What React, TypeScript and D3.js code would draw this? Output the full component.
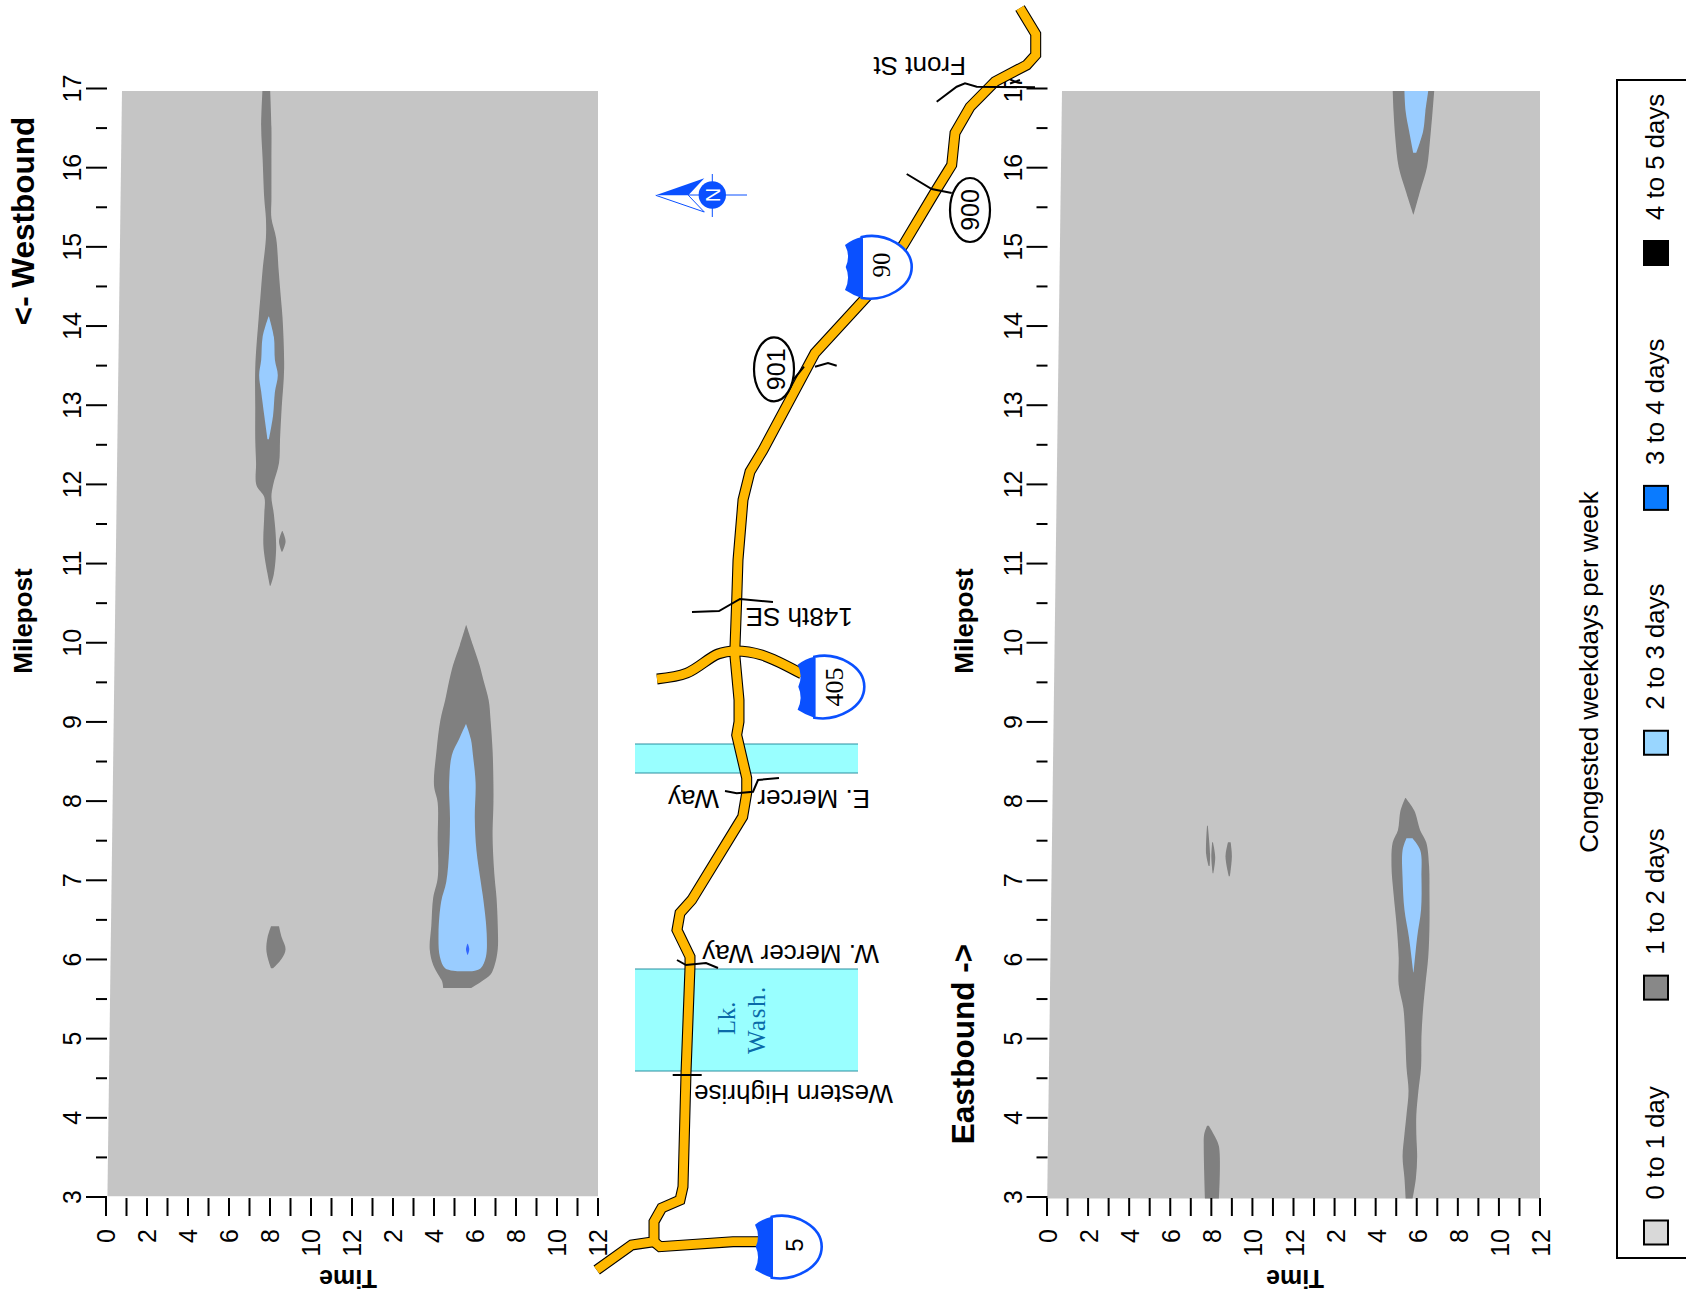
import React from "react";
import * as d3 from "d3";

const WIDTH = 1686;
const HEIGHT = 1299;
const SANS = "'Liberation Sans', Arial, sans-serif";
const SERIF = "'Liberation Serif', 'Times New Roman', serif";

// ---- axis data
const hourTicks = d3.range(0, 25);
const hourLabels = ["0", "2", "4", "6", "8", "10", "12", "2", "4", "6", "8", "10", "12"];
const mileTicks = d3.range(3, 17.5, 0.5);

// ---- plot corners [milepost, hour left, hour right]
const fieldWest = [[16.97, 0.78, 24], [3.01, 0.07, 24]];
const fieldEast = [[16.97, 0.73, 24], [2.98, 0.01, 24]];

// ---- congestion regions, [milepost, from hour, to hour]
const westAmDark = [[16.97,7.63,8.01],[16.51,7.57,8.07],[16.11,7.64,8.07],[15.61,7.72,8.07],[15.36,7.8,8.07],[15.11,7.8,8.3],[14.71,7.64,8.42],[14.36,7.53,8.53],[14.11,7.45,8.61],[13.47,7.28,8.69],[12.97,7.28,8.57],[12.57,7.28,8.49],[12.27,7.32,8.44],[11.99,7.34,8.15],[11.84,7.72,8.07],[11.62,7.72,8.19],[11.22,7.68,8.3],[10.87,7.88,8.19],[10.72,7.99,8.03]];
const westAmLight = [[14.12,7.93,7.95],[13.86,7.64,8.19],[13.57,7.57,8.24],[13.38,7.47,8.38],[13.17,7.57,8.24],[12.87,7.72,8.15],[12.57,7.88,7.95]];
const westAmSpot = [[11.41,8.59,8.61],[11.28,8.44,8.76],[11.15,8.57,8.6]];
const westPmDark = [[10.22,17.56,17.58],[9.97,17.26,17.9],[9.72,16.93,18.22],[9.52,16.74,18.42],[9.27,16.54,18.67],[9.02,16.31,18.76],[8.63,16.12,18.86],[8.2,16.0,18.9],[7.98,16.18,18.9],[7.53,16.18,18.86],[7.03,16.18,18.96],[6.78,15.96,19.05],[6.43,15.87,19.11],[6.13,15.79,19.11],[5.93,15.96,18.96],[5.81,16.2,18.76],[5.72,16.4,18.3],[5.64,16.45,17.8]];
const westPmLight = [[8.97,17.55,17.57],[8.78,17.22,17.8],[8.58,16.87,17.9],[8.23,16.74,18.03],[7.78,16.78,17.99],[7.38,16.74,18.07],[6.98,16.6,18.28],[6.73,16.35,18.42],[6.33,16.22,18.57],[6.03,16.29,18.53],[5.89,16.54,18.28],[5.85,17.22,17.8]];
const westPmCore = [[6.2,17.63,17.65],[6.13,17.56,17.72],[6.06,17.63,17.65]];
const westAmLow = [[6.42,8.05,8.44],[6.28,7.88,8.57],[6.13,7.82,8.76],[6.01,7.9,8.57],[5.89,8.05,8.15]];

const eastPmTopDark = [[16.97,16.83,18.85],[16.71,16.87,18.77],[16.36,16.96,18.65],[16.01,17.12,18.5],[15.71,17.46,18.17],[15.41,17.83,17.85]];
const eastPmTopLight = [[16.97,17.4,18.56],[16.71,17.46,18.42],[16.46,17.63,18.31],[16.19,17.83,17.98]];
const eastPmDark = [[8.04,17.44,17.46],[7.88,17.21,17.88],[7.63,17.08,18.17],[7.48,16.83,18.46],[7.18,16.77,18.6],[6.83,16.87,18.62],[6.43,17.02,18.62],[6.03,17.12,18.56],[5.68,17.12,18.42],[5.38,17.35,18.31],[5.03,17.44,18.23],[4.64,17.5,18.21],[4.34,17.6,18.08],[4.04,17.5,17.98],[3.79,17.4,17.98],[3.51,17.31,18.02],[3.24,17.4,17.96],[2.98,17.46,17.8]];
const eastPmLight = [[7.53,17.5,17.79],[7.38,17.31,18.17],[7.03,17.31,18.23],[6.63,17.4,18.21],[6.28,17.62,18.02],[5.84,17.83,17.85]];
const eastAmLow = [[3.9,7.79,7.88],[3.79,7.65,8.12],[3.64,7.63,8.37],[2.98,7.69,8.37]];
const eastAmSpotA = [[7.48,8.81,8.94],[7.3,8.69,9.0],[7.05,8.85,8.9]];
const eastAmSpotB = [[7.69,7.79,7.83],[7.33,7.75,7.94],[7.18,7.87,7.92]];
const eastAmSpotC = [[7.48,8.04,8.08],[7.29,8.0,8.19],[7.09,8.06,8.1]];

const DARK = "#808080";
const LIGHT = "#99ccff";
const CORE = "#3366ff";
const westRegions = [
  { rows: westAmDark, fill: DARK }, { rows: westAmSpot, fill: DARK }, { rows: westAmLow, fill: DARK }, { rows: westPmDark, fill: DARK },
  { rows: westAmLight, fill: LIGHT }, { rows: westPmLight, fill: LIGHT }, { rows: westPmCore, fill: CORE },
];
const eastRegions = [
  { rows: eastPmTopDark, fill: DARK }, { rows: eastPmDark, fill: DARK }, { rows: eastAmLow, fill: DARK },
  { rows: eastAmSpotA, fill: DARK }, { rows: eastAmSpotB, fill: DARK }, { rows: eastAmSpotC, fill: DARK },
  { rows: eastPmTopLight, fill: LIGHT }, { rows: eastPmLight, fill: LIGHT },
];

// ---- legend
const legendLabels = ["0 to 1 day", "1 to 2 days", "2 to 3 days", "3 to 4 days", "4 to 5 days"];
const legendColors = ["#d9d9d9", "#888888", "#99d6ff", "#0a7bff", "#000000"];

// ---- road map (page points)
const roadMain = [[1020,8],[1035.7,34],[1035.7,55],[1026.7,65],[995,81.7],[970,107],[955,133],[951.7,165],[935,192],[903.3,245],[866.7,296.7],[815,353],[763,450],[750,471.7],[743,500],[738,560],[736.7,600],[735,646.7],[735,656.7],[739,700],[739,721.7],[736.7,735],[746.7,778],[746.7,793],[742.7,816.7],[691.7,900],[680,913],[677,930],[690,956.7],[690,966.7],[686,1073],[683,1186.7],[680,1200],[661.7,1208],[654,1221.7],[654,1241.7],[631.7,1245],[596.7,1270]];
const roadI5 = [[654,1241.7],[660,1246.7],[733,1241.7],[760,1241.7]];
const road405 = [[657,679],[687,673],[718,654],[735,651],[761.7,655],[802,674]];

const crossStreets = [
  [[672.7,1075],[701.7,1075]],
  [[677,960],[686,965],[706,963],[718,968]],
  [[725,791],[736.7,793.3],[753,791.7],[758,780],[779,778]],
  [[692,612],[719,611],[740,599],[773,602]],
  [[936.7,101.7],[956.7,86.7],[965,83.3],[976.7,86.7],[1035,87.3]],
  [[1010,83.5],[1020,80]],
  [[906.7,174],[931.7,189],[951.7,193]],
  [[815,366.7],[828,363],[836.7,365.7]],
  [[786.7,393],[793,380],[804,366.7]],
];

const lakes = [[969, 1071], [744, 773]];
const lakeX = [635, 858];

const streetLabels = [
  { text: "Western Highrise", x: 893, y: 1085 },
  { text: "W. Mercer Way", x: 879, y: 945 },
  { text: "148th SE", x: 852.7, y: 608 },
  { text: "Front St", x: 966, y: 57 },
];

const ovals = [
  { text: "900", cx: 970, cy: 210, base: 979 },
  { text: "901", cx: 774, cy: 369.3, base: 785 },
];
const shields = [
  { text: "90", x: 861.7, y: 267, base: 890, textY: 265, font: SERIF, size: 25 },
  { text: "405", x: 814.3, y: 686.7, base: 843, textY: 687, font: SERIF, size: 26 },
  { text: "5", x: 771.7, y: 1246.7, base: 802.7, textY: 1245, font: SANS, size: 24 },
];

const rowsArea = (x: any, y: any, curve: any) =>
  d3.area<number[]>().y((d) => y(d[0])).x0((d) => x(d[1])).x1((d) => x(d[2])).curve(curve);

function rot(x: number, y: number, a: number) {
  return `translate(${x},${y}) rotate(${a})`;
}

function Panel({ x0, x1, axisX, field, regions, labelDx, timeX, mileX, dirLabel, dirY, dirX }: any) {
  const x = d3.scaleLinear().domain([0, 24]).range([x0, x1]);
  const y = d3.scaleLinear().domain([3, 17]).range([1197, 88.5]);
  const area = rowsArea(x, y, d3.curveLinear);
  const blob = rowsArea(x, y, d3.curveCatmullRom.alpha(0.5));
  const labelFont = { fontFamily: SANS, fontSize: 25, fill: "#000" };
  return (
    <g>
      <path d={area(field) ?? ""} fill="#c5c5c5" />
      <g filter="url(#soft)">
        {regions.map((r: any, i: number) => (
          <path key={i} d={blob(r.rows) ?? ""} fill={r.fill} />
        ))}
      </g>
      {hourTicks.map((t) => (
        <line key={t} x1={x(t)} x2={x(t)} y1={1198} y2={1216} stroke="#000" strokeWidth={2} />
      ))}
      {hourLabels.map((l, i) => (
        <text key={i} transform={rot(x(i * 2) + labelDx, 1229, -90)} textAnchor="end" {...labelFont}>{l}</text>
      ))}
      {mileTicks.map((m) => {
        const major = Number.isInteger(m);
        return (
          <line key={m} x1={axisX - (major ? 21 : 11)} x2={axisX} y1={y(m)} y2={y(m)} stroke="#000" strokeWidth={2} />
        );
      })}
      {mileTicks.filter((m) => Number.isInteger(m)).map((m) => (
        <text key={m} transform={rot(axisX - 26, y(m), -90)} textAnchor="middle" {...labelFont}>{m}</text>
      ))}
      <text transform={rot(timeX, 1270, 180)} textAnchor="middle" fontFamily={SANS} fontWeight="bold" fontSize={25}>Time</text>
      <text transform={rot(mileX, 621, -90)} textAnchor="middle" fontFamily={SANS} fontWeight="bold" fontSize={26}>Milepost</text>
      <text transform={rot(dirX, dirY, -90)} textAnchor="middle" fontFamily={SANS} fontWeight="bold" fontSize={31.5}>{dirLabel}</text>
    </g>
  );
}

function Map() {
  const line = d3.line<number[]>().x((d) => d[0]).y((d) => d[1]);
  const smooth = d3.line<number[]>().x((d) => d[0]).y((d) => d[1]).curve(d3.curveCatmullRom.alpha(0.5));
  const roadPaths = [line(roadMain), line(roadI5), smooth(road405)];
  const streetStyle = { fill: "none", stroke: "#000", strokeWidth: 2 };
  const textStyle = { fontFamily: SANS, fontSize: 26, fill: "#000" };
  return (
    <g>
      {lakes.map(([a, b], i) => (
        <g key={i}>
          <rect x={lakeX[0]} y={a} width={lakeX[1] - lakeX[0]} height={b - a} fill="#99ffff" />
          <line x1={lakeX[0]} x2={lakeX[1]} y1={a} y2={a} stroke="#2a8fa0" strokeWidth={1} />
          <line x1={lakeX[0]} x2={lakeX[1]} y1={b} y2={b} stroke="#2a8fa0" strokeWidth={1} />
        </g>
      ))}
      <text transform={rot(735, 1035, -90)} fontFamily={SERIF} fontSize={24.5} fill="#0a6aa8">Lk.</text>
      <text transform={rot(765, 1054, -90)} fontFamily={SERIF} fontSize={25} letterSpacing={1.5} fill="#0a6aa8">Wash.</text>
      {roadPaths.map((d, i) => (
        <path key={i} d={d ?? ""} fill="none" stroke="#000" strokeWidth={11} strokeLinejoin="miter" />
      ))}
      {roadPaths.map((d, i) => (
        <path key={i} d={d ?? ""} fill="none" stroke="#ffb800" strokeWidth={8.8} strokeLinejoin="miter" />
      ))}
      {crossStreets.map((c, i) => (
        <path key={i} d={line(c) ?? ""} {...streetStyle} />
      ))}
      {streetLabels.map((l) => (
        <text key={l.text} transform={rot(l.x, l.y, 180)} {...textStyle}>{l.text}</text>
      ))}
      <text transform={rot(870, 790, 180)} {...textStyle}>E. Mercer<tspan dx={31}> Way</tspan></text>
      {ovals.map((o) => (
        <g key={o.text}>
          <ellipse cx={o.cx} cy={o.cy} rx={20} ry={32} fill="#fff" stroke="#000" strokeWidth={2.2} />
          <text transform={rot(o.base, o.cy, -90)} textAnchor="middle" fontFamily={SANS} fontSize={25}>{o.text}</text>
        </g>
      ))}
      {shields.map((s) => (
        <g key={s.text}>
          <g transform={`translate(${s.x},${s.y})`}>
            <path d="M0,-30 C24,-35 50,-20 50,0 C50,20 24,35 0,31 Z" fill="#fff" stroke="#0a50ff" strokeWidth={2.6} />
            <path d="M0,-30 Q-9,-28 -16.7,-22 Q-11,-11 -16,0 Q-11,11 -16.7,23 Q-9,28 0,31 Z" fill="#0a50ff" />
          </g>
          <text transform={rot(s.base, s.textY, -90)} textAnchor="middle" fontFamily={s.font} fontSize={s.size}>{s.text}</text>
        </g>
      ))}
      <g stroke="#0a50ff" strokeWidth={1} fill="none">
        <line x1={688} x2={747} y1={195} y2={195} />
        <line x1={712.3} x2={712.3} y1={174} y2={217} />
        <path d="M655.7,195.3 L704.3,212 L688.3,195.3" />
      </g>
      <path d="M655.7,195.3 L704.3,178.3 L688.3,195.3 Z" fill="#0a50ff" />
      <circle cx={712.3} cy={195} r={13.7} fill="#0a50ff" />
      <text transform={rot(719.5, 195, -90)} textAnchor="middle" fontFamily={SANS} fontSize={20} fill="#fff">N</text>
    </g>
  );
}

function Legend() {
  const step = d3.scaleLinear().domain([0, 4]).range([1232.5, 253]);
  return (
    <g>
      <rect x={1617} y={80} width={100} height={1178} fill="#fff" stroke="#000" strokeWidth={2} />
      <text transform={rot(1598, 672, -90)} textAnchor="middle" fontFamily={SANS} fontSize={26}>Congested weekdays per week</text>
      {legendLabels.map((l, i) => (
        <g key={l}>
          <rect x={1644} y={step(i) - 12} width={24} height={24} fill={legendColors[i]} stroke="#000" strokeWidth={2} />
          <text transform={rot(1664, step(i) - 33, -90)} fontFamily={SANS} fontSize={25.8}>{l}</text>
        </g>
      ))}
    </g>
  );
}

export default function App() {
  return (
    <svg
      width={WIDTH}
      height={HEIGHT}
      viewBox={`0 0 ${WIDTH} ${HEIGHT}`}
      style={{ position: "absolute", left: 0, top: 0, display: "block", background: "#fff" }}
    >
      <defs>
        <filter id="soft" x="-10%" y="-10%" width="120%" height="120%">
          <feGaussianBlur stdDeviation="0.4" />
        </filter>
      </defs>
      <Panel x0={106} x1={598} axisX={107} field={fieldWest} regions={westRegions} labelDx={9} timeX={348} mileX={32} dirLabel="<- Westbound" dirY={221} dirX={34} />
      <Panel x0={1047} x1={1540} axisX={1047.5} field={fieldEast} regions={eastRegions} labelDx={10} timeX={1295} mileX={973} dirLabel="Eastbound ->" dirY={1044} dirX={974} />
      <Map />
      <Legend />
    </svg>
  );
}
